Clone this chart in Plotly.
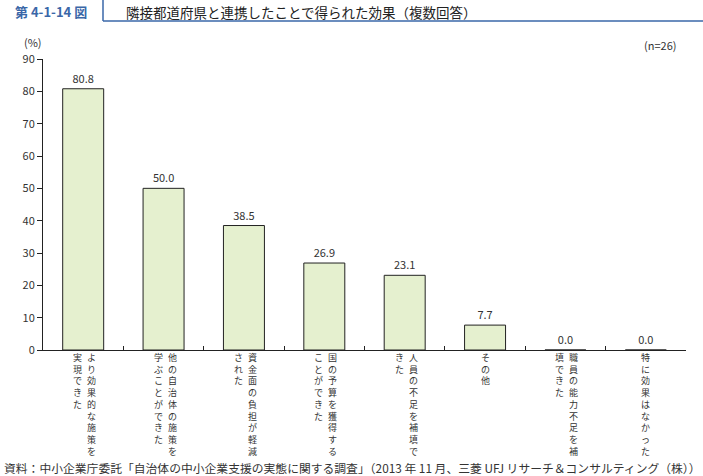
import plotly.graph_objects as go

# ---- data ----
categories = [
    "より効果的な施策を実現できた",
    "他の自治体の施策を学ぶことができた",
    "資金面の負担が軽減された",
    "国の予算を獲得することができた",
    "人員の不足を補填できた",
    "その他",
    "職員の能力不足を補填できた",
    "特に効果はなかった",
]
# vertical label columns (right column first, as in vertical Japanese writing)
label_columns = [
    ["より効果的な施策を", "実現できた"],
    ["他の自治体の施策を", "学ぶことができた"],
    ["資金面の負担が軽減", "された"],
    ["国の予算を獲得する", "ことができた"],
    ["人員の不足を補填で", "きた"],
    ["その他"],
    ["職員の能力不足を補", "填できた"],
    ["特に効果はなかった"],
]
values = [80.8, 50.0, 38.5, 26.9, 23.1, 7.7, 0.0, 0.0]
y_ticks = [0, 10, 20, 30, 40, 50, 60, 70, 80, 90]

W, H = 703, 476
ML, MR, MT, MB = 43, 17, 59, 126
PW, PH = W - ML - MR, H - MT - MB

def px(x):
    return (x - ML) / PW

def py(y):
    return (H - MB - y) / PH

FONT = "Noto Sans CJK JP"
TXT = "#333333"
BLUE = "#3a67a8"

xs = list(range(len(categories)))

fig = go.Figure()
fig.add_trace(go.Bar(
    x=xs, y=values,
    width=0.51,
    marker=dict(color="#e5f0cf", line=dict(color="#222222", width=1)),
    text=[f"{v:.1f}" for v in values],
    textposition="outside",
    textfont=dict(family=FONT, size=11, color=TXT),
    cliponaxis=False,
    hovertext=categories,
))

annotations = []
# vertical category labels: one annotation per column, one character per line
col_offsets = {1: [0], 2: [8.5, -5.5]}
for i, cols in enumerate(label_columns):
    offs = col_offsets[len(cols)]
    for c, col in enumerate(cols):
        annotations.append(dict(
            x=xs[i], y=0, xref="x", yref="paper",
            text="<br>".join(list(col)), showarrow=False,
            xanchor="center", yanchor="top", align="center",
            xshift=offs[c], yshift=0,
            borderpad=0,
            font=dict(family=FONT, size=9, color=TXT),
        ))

annotations += [
    dict(x=px(33), y=py(42), xref="paper", yref="paper",
         text="(%)", showarrow=False, xanchor="center", yanchor="middle",
         font=dict(family=FONT, size=11, color=TXT)),
    dict(x=px(678), y=py(45), xref="paper", yref="paper",
         text="(n=26)", showarrow=False, xanchor="right", yanchor="middle",
         font=dict(family=FONT, size=11, color=TXT)),
    dict(x=px(13), y=py(12), xref="paper", yref="paper",
         text="<b>第 4-1-14 図</b>", showarrow=False, xanchor="left", yanchor="middle",
         font=dict(family=FONT, size=13, color=BLUE)),
    dict(x=px(124), y=py(12), xref="paper", yref="paper",
         text="隣接都道府県と連携したことで得られた効果（複数回答）", showarrow=False,
         xanchor="left", yanchor="middle",
         font=dict(family=FONT, size=13.5, color="#222222")),
    dict(x=px(2), y=py(467), xref="paper", yref="paper",
         text="資料：中小企業庁委託「自治体の中小企業支援の実態に関する調査」（2013 年 11 月、三菱 UFJ リサーチ＆コンサルティング（株））",
         showarrow=False, xanchor="left", yanchor="middle",
         font=dict(family=FONT, size=11.8, color=TXT)),
]

shapes = [
    dict(type="line", xref="paper", yref="paper",
         x0=px(103), x1=px(103), y0=py(0), y1=py(21),
         line=dict(color=BLUE, width=1.5)),
    dict(type="line", xref="paper", yref="paper",
         x0=px(103), x1=px(703), y0=py(21), y1=py(21),
         line=dict(color=BLUE, width=1.5)),
]

fig.update_layout(
    width=W, height=H,
    margin=dict(l=ML, r=MR, t=MT, b=MB),
    paper_bgcolor="white", plot_bgcolor="white",
    showlegend=False,
    annotations=annotations,
    shapes=shapes,
    xaxis=dict(
        range=[-0.5, len(categories) - 0.5],
        tickvals=[i + 0.5 for i in xs],
        showticklabels=False,
        ticks="inside", ticklen=4, tickcolor="#222222", tickwidth=1,
        showline=True, linecolor="#222222", linewidth=1,
        showgrid=False, zeroline=False,
    ),
    yaxis=dict(
        range=[0, 90],
        tickvals=y_ticks,
        ticks="outside", ticklen=5, tickcolor="#222222", tickwidth=1,
        showline=True, linecolor="#222222", linewidth=1,
        showgrid=False, zeroline=False,
        tickfont=dict(family=FONT, size=11, color=TXT),
    ),
    font=dict(family=FONT),
)

fig.write_html("out.html")
